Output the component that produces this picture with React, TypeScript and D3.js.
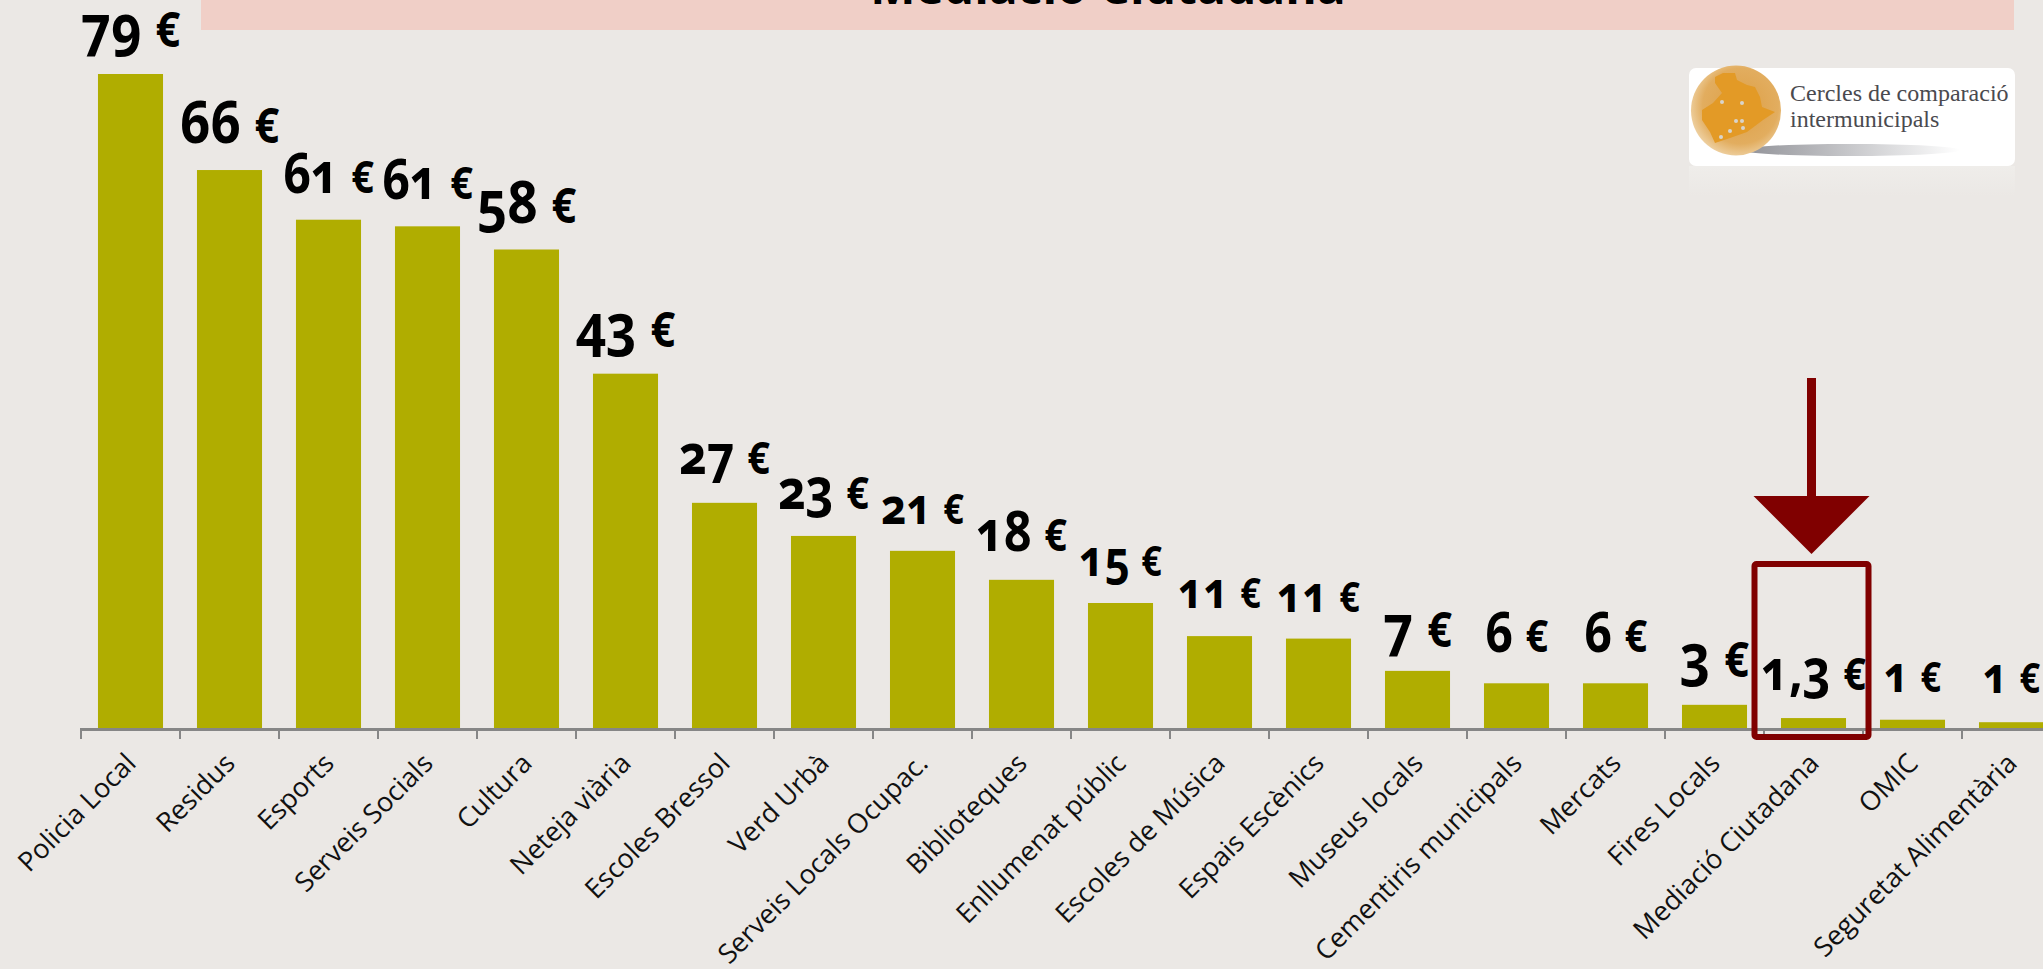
import React, { useEffect, useRef } from 'react';
import * as d3 from 'd3';

// Cost per inhabitant for each municipal service
const categories = [
  'Policia Local', 'Residus', 'Esports', 'Serveis Socials', 'Cultura', 'Neteja viària', 'Escoles Bressol',
  'Verd Urbà', 'Serveis Locals Ocupac.', 'Biblioteques', 'Enllumenat públic', 'Escoles de Música',
  'Espais Escènics', 'Museus locals', 'Cementiris municipals', 'Mercats', 'Fires Locals',
  'Mediació Ciutadana', 'OMIC', 'Seguretat Alimentària',
];
const values = [79, 67.4, 61.4, 60.6, 57.8, 42.8, 27.2, 23.2, 21.4, 17.9, 15.1, 11.1, 10.8, 6.9, 5.4, 5.4, 2.8, 1.2, 1.0, 0.7];
const valueLabels = [
  '79', '66', '61', '61', '58', '43', '27', '23', '21', '18', '15',
  '11', '11', '7', '6', '6', '3', '1,3', '1', '1',
];

// the labels were placed by hand on the slide: gap above the bar and font size for each one
const labelGaps = [27, 27, 27, 27, 27, 27, 29, 27, 27, 29, 27, 28, 27, 24, 31, 31, 28, 28, 28, 29];
const labelSizes = [60, 60, 55, 55, 60, 60, 55, 55, 50, 55, 50, 50, 50, 60, 55, 55, 60, 55, 50, 50];

const title = 'Mediació Ciutadana';
const logoLines = ['Cercles de comparació', 'intermunicipals'];
const logoDots = [[1722, 102], [1742, 103], [1736, 121], [1742, 121], [1730, 131], [1743, 128], [1721, 137]];

const width = 2043;
const height = 969;
const baseline = 728;
const labelFont = '"Open Sans", Lato, sans-serif';

const App = () => {
  const svgRef = useRef<SVGSVGElement>(null);

  useEffect(() => {
    const svg = d3.select(svgRef.current);
    svg.selectAll('*').remove();

    svg.append('rect').attr('width', width).attr('height', height).attr('fill', '#ebe8e5');

    // Title band, the slide crops most of it
    svg.append('rect').attr('x', 201).attr('y', 0).attr('width', 1813).attr('height', 30).attr('fill', '#f0cfc7');
    svg.append('text')
      .attr('x', 1108)
      .attr('y', 4)
      .attr('text-anchor', 'middle')
      .style('font-family', labelFont)
      .style('font-weight', 700)
      .style('font-size', '48px')
      .text(title);

    // Scales
    const x = d3.scaleBand<string>()
      .domain(categories)
      .range([81, 81 + 99 * categories.length])
      .paddingInner(0.343)
      .paddingOuter(0.1715);
    const y = d3.scaleLinear().domain([0, 79]).range([baseline, 74]);
    const tickX = (c: string) => x(c)! + x.bandwidth() / 2 - x.step() / 2;

    // Bars
    svg.selectAll('.bar')
      .data(categories)
      .enter()
      .append('rect')
      .attr('class', 'bar')
      .attr('x', d => x(d)!)
      .attr('y', (d, i) => y(values[i]))
      .attr('width', x.bandwidth())
      .attr('height', (d, i) => baseline - y(values[i]))
      .attr('fill', '#b0ad00');

    // Axis
    svg.append('line')
      .attr('x1', 80).attr('x2', width)
      .attr('y1', 729.5).attr('y2', 729.5)
      .attr('stroke', '#868686').attr('stroke-width', 3);
    svg.selectAll('.tick')
      .data(categories)
      .enter()
      .append('line')
      .attr('class', 'tick')
      .attr('x1', d => tickX(d)).attr('x2', d => tickX(d))
      .attr('y1', 729).attr('y2', 739)
      .attr('stroke', '#868686').attr('stroke-width', 2);

    // Category labels
    svg.selectAll('.cat')
      .data(categories)
      .enter()
      .append('text')
      .attr('class', 'cat')
      .attr('text-anchor', 'end')
      .attr('transform', d => `translate(${x(d)! + x.bandwidth() / 2 + 7},765) rotate(-45)`)
      .style('font-family', labelFont)
      .style('font-size', '27px')
      .style('fill', '#111')
      .text(d => d);

    // Value labels, squeezed a bit since the slide font is narrower, with a small euro sign
    const valueText = svg.selectAll('.val')
      .data(valueLabels)
      .enter()
      .append('text')
      .attr('class', 'val')
      .attr('transform', (d, i) => `translate(${x(categories[i])! + x.bandwidth() / 2},${y(values[i]) - labelGaps[i]}) scale(0.88,1)`)
      .attr('text-anchor', 'middle')
      .style('font-family', labelFont)
      .style('font-weight', 700)
      .style('font-feature-settings', '"onum"')
      .style('font-size', (d, i) => `${labelSizes[i]}px`);
    valueText.append('tspan').text(d => `${d} `);
    valueText.append('tspan').style('font-size', '0.82em').text('€');

    // Highlight for Mediació Ciutadana
    const hx = x('Mediació Ciutadana')! + x.bandwidth() / 2 - 2;
    svg.append('rect')
      .attr('x', hx - 57).attr('y', 564).attr('width', 114).attr('height', 173)
      .attr('rx', 2)
      .attr('fill', 'none').attr('stroke', '#800000').attr('stroke-width', 6);
    svg.append('rect').attr('x', hx - 4.5).attr('y', 378).attr('width', 9).attr('height', 120).attr('fill', '#800000');
    svg.append('path')
      .attr('d', `M${hx - 58},496H${hx + 58}L${hx},554Z`)
      .attr('fill', '#800000');

    // Logo
    const defs = svg.append('defs');
    const globe = defs.append('radialGradient').attr('id', 'globe').attr('cx', '0.55').attr('cy', '0.45').attr('r', '0.6');
    globe.append('stop').attr('offset', '0').attr('stop-color', '#dd9f45');
    globe.append('stop').attr('offset', '0.7').attr('stop-color', '#e2ad5f');
    globe.append('stop').attr('offset', '1').attr('stop-color', '#f0d6ac');
    const shadow = defs.append('linearGradient').attr('id', 'shadow');
    shadow.append('stop').attr('offset', '0').attr('stop-color', '#8f9096');
    shadow.append('stop').attr('offset', '1').attr('stop-color', '#ffffff');
    const reflect = defs.append('linearGradient').attr('id', 'reflect').attr('x1', 0).attr('x2', 0).attr('y1', 0).attr('y2', 1);
    reflect.append('stop').attr('offset', '0').attr('stop-color', '#efedea');
    reflect.append('stop').attr('offset', '1').attr('stop-color', '#ebe8e5');

    svg.append('rect').attr('x', 1689).attr('y', 166).attr('width', 326).attr('height', 30).attr('fill', 'url(#reflect)');
    svg.append('rect').attr('x', 1689).attr('y', 68).attr('width', 326).attr('height', 98).attr('rx', 7).attr('fill', '#fff');
    svg.append('ellipse').attr('cx', 1850).attr('cy', 150).attr('rx', 110).attr('ry', 6).attr('fill', 'url(#shadow)');
    svg.append('circle').attr('cx', 1736).attr('cy', 110.5).attr('r', 45).attr('fill', 'url(#globe)');
    svg.append('path')
      .attr('d', 'M1715,77L1723,73L1735,73L1737,80L1747,85L1755,87L1760,97L1762,107L1775,112L1763,120L1747,132L1730,138L1715,143L1710,132L1702,120L1702,110L1713,103L1722,93L1715,83Z')
      .attr('fill', '#e39a26');
    svg.selectAll('.dot')
      .data(logoDots)
      .enter()
      .append('circle')
      .attr('class', 'dot')
      .attr('cx', d => d[0]).attr('cy', d => d[1]).attr('r', 2)
      .attr('fill', '#d8d4cc');
    svg.selectAll('.logo')
      .data(logoLines)
      .enter()
      .append('text')
      .attr('class', 'logo')
      .attr('x', 1790)
      .attr('y', (d, i) => 101 + i * 26)
      .style('font-family', '"Liberation Serif", serif')
      .style('font-size', '24px')
      .style('fill', '#4a4a4f')
      .text(d => d);
  }, []);

  return <svg ref={svgRef} width={width} height={height} style={{ position: 'fixed', left: 0, top: 0, display: 'block' }}></svg>;
};

export default App;
